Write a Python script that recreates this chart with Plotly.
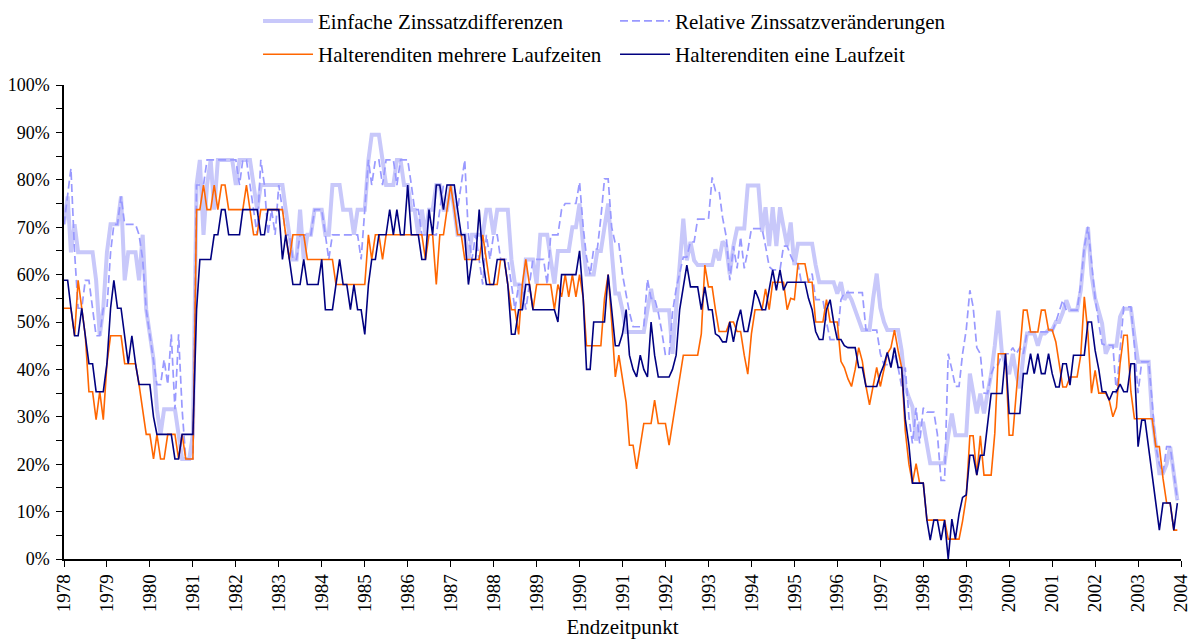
import pandas as pd
import plotly.graph_objects as go

years = list(range(1978, 2005))
year_labels = [str(y) for y in years]

# Monthly values (%) Jan 1978 - Dec 2003
einfache = [
    70.6, 76.5, 64.7, 70.6, 64.7, 64.7, 64.7, 64.7, 64.7, 58.8, 47.1, 52.9,
    64.7, 70.6, 70.6, 70.6, 76.5, 58.8, 64.7, 64.7, 64.7, 58.8, 68.4, 52.6,
    47.4, 42.1, 31.6, 26.3, 31.6, 31.6, 31.6, 31.6, 26.3, 21.1, 21.1, 21.1,
    26.3, 78.9, 84.2, 68.4, 78.9, 84.2, 73.7, 84.2, 84.2, 84.2, 84.2, 84.2,
    78.9, 84.2, 84.2, 84.2, 84.2, 78.9, 73.7, 78.9, 78.9, 78.9, 78.9, 78.9,
    78.9, 78.9, 73.7, 68.4, 63.2, 63.2, 73.7, 63.2, 68.4, 68.4, 73.7, 73.7,
    73.7, 68.4, 68.4, 78.9, 78.9, 78.9, 73.7, 73.7, 73.7, 68.4, 73.7, 73.7,
    73.7, 84.2, 89.5, 89.5, 89.5, 84.2, 78.9, 78.9, 78.9, 84.2, 84.2, 78.9,
    78.9, 73.7, 73.7, 68.4, 73.7, 68.4, 73.7, 73.7, 78.9, 78.9, 73.7, 73.7,
    78.9, 73.7, 68.4, 68.4, 68.4, 63.2, 68.4, 68.4, 68.4, 68.4, 73.7, 73.7,
    68.4, 73.7, 73.7, 73.7, 73.7, 63.2, 57.9, 57.9, 52.6, 63.2, 63.2, 63.2,
    58.1, 68.4, 68.4, 68.4, 63.2, 58.1, 65.0, 65.0, 65.0, 65.0, 70.0, 70.0,
    75.0, 65.8, 60.0, 60.0, 60.0, 65.0, 65.0, 70.0, 75.0, 65.0, 56.0, 56.0,
    52.5, 47.9, 47.9, 47.9, 47.9, 47.9, 47.9, 52.5, 57.0, 52.5, 52.5, 52.5,
    52.5, 52.5, 43.3, 52.0, 62.0, 71.8, 63.0, 66.9, 63.0, 62.0, 62.0, 62.0,
    62.0, 62.0, 65.3, 63.0, 67.0, 66.0, 60.0, 66.0, 69.7, 69.7, 69.7, 78.8,
    78.8, 78.8, 78.8, 69.0, 74.2, 66.0, 74.2, 66.0, 74.2, 70.0, 66.0, 71.0,
    62.0, 66.5, 66.5, 66.5, 66.5, 66.5, 62.0, 58.4, 58.4, 58.4, 58.4, 58.4,
    56.0, 58.4, 54.7, 56.0, 54.7, 52.4, 50.0, 48.3, 48.3, 48.3, 55.0, 60.2,
    53.0, 50.0, 48.3, 48.3, 48.3, 48.3, 44.0, 36.3, 34.0, 32.1, 25.0, 28.6,
    28.6, 24.0, 20.2, 20.2, 20.2, 20.2, 20.2, 26.0, 30.7, 26.1, 26.1, 26.1,
    26.1, 39.1, 34.9, 30.7, 34.9, 30.7, 34.9, 39.0, 45.0, 52.4, 43.3, 41.0,
    39.0, 43.3, 39.0, 36.0, 43.0, 47.6, 47.6, 47.6, 45.0, 47.6, 47.6, 48.3,
    48.3, 50.0, 50.0, 52.0, 54.6, 52.5, 52.5, 52.5, 56.7, 65.0, 70.0, 60.0,
    55.0, 52.0, 49.7, 43.3, 45.0, 45.0, 45.0, 51.1, 52.8, 52.8, 52.8, 47.0,
    41.6, 41.6, 41.6, 41.6, 30.0, 23.7, 18.1, 18.1, 20.0, 23.7, 18.1, 12.4,
]

relative = [
    70.6, 76.5, 82.4, 64.7, 52.9, 52.9, 58.8, 58.8, 52.9, 47.1, 47.1, 52.9,
    52.9, 64.7, 70.6, 70.6, 76.5, 70.6, 70.6, 70.6, 70.6, 68.4, 63.2, 52.6,
    47.4, 42.1, 36.8, 36.8, 42.1, 36.8, 47.4, 31.6, 47.4, 31.6, 21.1, 21.1,
    21.1, 78.9, 78.9, 78.9, 84.2, 84.2, 84.2, 84.2, 84.2, 84.2, 84.2, 84.2,
    84.2, 78.9, 84.2, 84.2, 78.9, 73.7, 68.4, 84.2, 78.9, 68.4, 73.7, 68.4,
    78.9, 73.7, 68.4, 68.4, 63.2, 63.2, 68.4, 68.4, 68.4, 68.4, 73.7, 73.7,
    73.7, 68.4, 63.2, 68.4, 68.4, 68.4, 68.4, 68.4, 68.4, 68.4, 68.4, 63.2,
    73.7, 84.2, 78.9, 84.2, 84.2, 78.9, 84.2, 84.2, 84.2, 78.9, 84.2, 84.2,
    84.2, 78.9, 73.7, 73.7, 68.4, 68.4, 68.4, 68.4, 68.4, 73.7, 78.9, 78.9,
    78.9, 78.9, 73.7, 78.9, 84.2, 68.4, 63.2, 68.4, 63.2, 57.9, 68.4, 63.2,
    68.4, 68.4, 63.2, 63.2, 63.2, 57.9, 52.6, 57.9, 57.9, 52.6, 57.9, 63.2,
    63.2, 63.2, 63.2, 57.9, 68.4, 68.4, 68.4, 73.7, 75.0, 75.0, 75.0, 75.0,
    79.5, 70.0, 63.7, 60.0, 65.4, 65.4, 72.0, 80.2, 80.2, 70.0, 66.5, 66.5,
    60.0, 55.3, 52.0, 49.0, 49.0, 49.0, 49.0, 59.0, 55.0, 55.0, 52.0, 48.0,
    43.0, 43.0, 52.0, 57.0, 60.0, 63.7, 63.7, 66.9, 66.9, 71.7, 71.7, 71.7,
    71.7, 80.5, 77.7, 77.7, 72.0, 68.0, 58.8, 66.0, 61.3, 68.0, 61.3, 65.0,
    69.7, 69.7, 69.7, 69.7, 66.0, 61.7, 61.0, 61.0, 61.0, 66.0, 66.0, 64.0,
    62.3, 62.3, 58.4, 58.4, 58.4, 60.2, 54.7, 54.7, 54.7, 50.0, 46.3, 46.3,
    46.3, 54.7, 56.2, 56.2, 56.2, 56.2, 56.2, 56.2, 48.3, 48.3, 48.3, 48.3,
    43.3, 41.0, 41.0, 41.0, 43.3, 40.4, 36.4, 40.4, 30.0, 24.4, 31.9, 24.4,
    31.9, 31.0, 31.0, 31.0, 26.3, 16.6, 16.6, 43.3, 40.0, 36.4, 36.4, 43.3,
    48.3, 56.7, 53.2, 44.6, 43.3, 35.0, 34.9, 39.0, 41.0, 41.0, 43.3, 43.3,
    43.3, 44.6, 43.3, 44.6, 43.3, 47.9, 47.9, 47.9, 47.9, 47.9, 47.9, 47.9,
    47.9, 50.0, 52.0, 54.6, 52.5, 52.5, 52.5, 52.5, 58.0, 65.8, 70.1, 62.3,
    55.0, 49.7, 45.4, 45.1, 45.1, 45.1, 34.9, 43.3, 53.2, 53.2, 53.2, 45.0,
    35.0, 41.6, 41.6, 41.6, 33.0, 23.7, 20.0, 18.1, 23.7, 23.7, 18.1, 12.4,
]

mehrere = [
    52.9, 52.9, 52.9, 47.1, 58.8, 52.9, 47.1, 35.3, 35.3, 29.4, 35.3, 29.4,
    41.2, 47.1, 47.1, 47.1, 47.1, 41.2, 41.2, 41.2, 41.2, 36.8, 31.6, 26.3,
    26.3, 21.1, 26.3, 21.1, 21.1, 26.3, 26.3, 26.3, 21.1, 26.3, 21.1, 21.1,
    21.1, 73.7, 73.7, 78.9, 73.7, 73.7, 78.9, 73.7, 78.9, 78.9, 73.7, 73.7,
    73.7, 73.7, 73.7, 78.9, 73.7, 68.4, 68.4, 73.7, 73.7, 73.7, 73.7, 73.7,
    73.7, 73.7, 68.4, 63.2, 68.4, 68.4, 68.4, 68.4, 63.2, 63.2, 63.2, 63.2,
    63.2, 63.2, 63.2, 63.2, 57.9, 57.9, 57.9, 57.9, 57.9, 57.9, 57.9, 57.9,
    57.9, 68.4, 63.2, 68.4, 68.4, 63.2, 68.4, 68.4, 68.4, 68.4, 68.4, 68.4,
    68.4, 68.4, 68.4, 68.4, 68.4, 63.2, 68.4, 68.4, 57.9, 68.4, 68.4, 73.7,
    78.9, 73.7, 68.4, 68.4, 63.2, 63.2, 63.2, 63.2, 63.2, 68.4, 63.2, 57.9,
    57.9, 57.9, 63.2, 63.2, 57.9, 52.6, 52.6, 47.4, 57.9, 63.2, 57.9, 52.6,
    57.9, 57.9, 57.9, 57.9, 57.9, 52.6, 57.9, 55.3, 60.0, 55.3, 60.0, 55.3,
    60.0, 55.0, 45.0, 45.0, 45.0, 45.0, 45.0, 55.0, 60.0, 50.0, 38.4, 43.0,
    38.4, 33.0, 24.0, 24.0, 19.0, 24.0, 28.6, 28.6, 28.6, 33.5, 28.6, 28.6,
    28.6, 24.0, 28.6, 33.0, 38.4, 43.0, 43.0, 43.0, 43.0, 43.0, 47.5, 62.0,
    57.4, 57.4, 52.6, 48.0, 48.0, 48.0, 50.0, 50.0, 48.0, 48.0, 43.0, 39.0,
    47.5, 52.6, 52.6, 52.6, 57.0, 52.6, 58.4, 58.4, 58.4, 58.4, 52.6, 55.0,
    54.7, 62.3, 62.3, 62.3, 58.4, 58.4, 50.0, 50.0, 50.0, 54.7, 50.0, 50.0,
    50.0, 41.7, 40.4, 38.0, 36.4, 40.0, 44.6, 41.7, 36.4, 32.5, 36.4, 40.4,
    36.4, 40.0, 43.3, 44.6, 48.3, 44.0, 40.4, 27.0, 20.0, 16.0, 20.1, 16.0,
    16.0, 8.2, 8.2, 8.2, 8.2, 8.2, 8.2, 4.2, 4.2, 4.2, 4.2, 8.0,
    13.0, 26.0, 26.0, 17.7, 26.0, 17.7, 17.7, 17.7, 26.5, 43.3, 43.3, 43.3,
    26.1, 26.1, 34.9, 43.0, 52.5, 52.5, 47.9, 47.9, 47.9, 52.5, 52.5, 48.3,
    48.3, 45.8, 41.2, 36.3, 36.3, 38.4, 38.4, 38.4, 43.0, 55.3, 47.6, 35.0,
    39.8, 35.0, 35.0, 35.0, 33.5, 30.0, 32.0, 41.2, 47.2, 47.2, 35.3, 29.6,
    29.6, 29.6, 29.6, 29.6, 29.6, 23.7, 23.7, 17.0, 11.8, 11.8, 6.1, 6.1,
]

eine = [
    58.8, 58.8, 52.9, 47.1, 47.1, 52.9, 47.1, 41.2, 41.2, 35.3, 35.3, 35.3,
    41.2, 52.9, 58.8, 52.9, 52.9, 47.1, 41.2, 47.1, 41.2, 36.8, 36.8, 36.8,
    36.8, 30.0, 26.3, 26.3, 26.3, 26.3, 26.3, 21.1, 21.1, 26.3, 26.3, 26.3,
    26.3, 52.6, 63.2, 63.2, 63.2, 63.2, 68.4, 68.4, 73.7, 73.7, 68.4, 68.4,
    68.4, 68.4, 73.7, 73.7, 73.7, 73.7, 73.7, 68.4, 68.4, 73.7, 73.7, 73.7,
    73.7, 63.2, 68.4, 63.2, 57.9, 57.9, 57.9, 63.2, 57.9, 57.9, 57.9, 57.9,
    63.2, 52.6, 52.6, 52.6, 57.9, 63.2, 57.9, 57.9, 52.6, 57.9, 52.6, 52.6,
    47.4, 57.9, 63.2, 63.2, 68.4, 68.4, 68.4, 73.7, 68.4, 73.7, 68.4, 68.4,
    78.9, 68.4, 68.4, 68.4, 63.2, 63.2, 73.7, 68.4, 78.9, 78.9, 73.7, 78.9,
    78.9, 78.9, 73.7, 68.4, 68.4, 57.9, 63.2, 63.2, 73.7, 63.2, 57.9, 57.9,
    57.9, 63.2, 63.2, 63.2, 57.9, 47.4, 47.4, 52.6, 52.6, 57.9, 57.9, 52.6,
    52.6, 52.6, 52.6, 52.6, 52.6, 52.6, 50.0, 60.0, 60.0, 60.0, 60.0, 60.0,
    65.0, 55.0, 40.0, 40.0, 50.0, 50.0, 50.0, 50.0, 60.0, 52.6, 45.0, 45.0,
    47.5, 52.6, 43.0, 40.0, 38.4, 43.0, 40.0, 38.4, 50.0, 43.0, 38.4, 38.4,
    38.4, 38.4, 40.0, 43.0, 52.6, 57.0, 62.0, 57.4, 57.4, 57.4, 52.6, 57.4,
    52.6, 52.6, 47.5, 47.0, 45.8, 45.8, 50.0, 45.8, 50.0, 52.6, 48.0, 48.0,
    52.0, 56.7, 55.0, 52.6, 52.6, 57.0, 61.0, 56.7, 61.0, 56.7, 58.4, 58.4,
    58.4, 58.4, 58.4, 58.4, 55.0, 52.6, 48.0, 46.3, 46.3, 52.6, 54.7, 50.0,
    46.3, 46.3, 45.0, 44.6, 44.6, 44.6, 40.4, 40.4, 36.4, 36.4, 36.4, 36.4,
    39.1, 41.0, 43.6, 40.4, 44.6, 40.4, 40.4, 29.5, 24.0, 16.0, 16.0, 16.0,
    16.0, 8.2, 4.0, 8.2, 8.2, 4.0, 8.2, 0.0, 8.4, 4.2, 9.5, 13.0,
    13.5, 21.9, 21.9, 17.7, 21.9, 21.9, 29.0, 34.9, 34.9, 34.9, 34.9, 43.3,
    30.7, 30.7, 30.7, 30.7, 39.1, 39.1, 43.3, 39.1, 43.3, 39.1, 39.1, 43.3,
    39.1, 36.3, 36.3, 41.2, 41.2, 36.7, 43.0, 43.0, 43.0, 43.0, 50.0, 50.0,
    44.0, 40.0, 35.3, 35.3, 33.5, 35.3, 35.3, 36.9, 35.3, 35.3, 41.2, 41.2,
    23.7, 29.3, 29.3, 23.7, 18.0, 11.8, 6.1, 11.8, 11.8, 11.8, 6.1, 11.8,
]

dates = pd.date_range("1978-01-01", periods=len(eine), freq="MS")
year_ticks = [pd.Timestamp(year=y, month=1, day=1) for y in years]
y_ticks = list(range(0, 101, 10))
y_labels = [f"{v}%" for v in y_ticks]

FONT = "Liberation Serif"

fig = go.Figure()
fig.add_trace(go.Scatter(x=dates, y=einfache, mode="lines",
                         name="Einfache Zinssatzdifferenzen",
                         line=dict(color="#c8c8fa", width=4),
                         legend="legend", legendgroup="a"))
fig.add_trace(go.Scatter(x=dates, y=relative, mode="lines",
                         name="Relative Zinssatzveränderungen",
                         line=dict(color="#9999ff", width=1.7, dash="8px,4px"),
                         legend="legend2", legendgroup="b"))
fig.add_trace(go.Scatter(x=dates, y=mehrere, mode="lines",
                         name="Halterenditen mehrere Laufzeiten",
                         line=dict(color="#ff6600", width=1.6),
                         legend="legend", legendgroup="c"))
fig.add_trace(go.Scatter(x=dates, y=eine, mode="lines",
                         name="Halterenditen eine Laufzeit",
                         line=dict(color="#000080", width=1.6),
                         legend="legend2", legendgroup="d"))

xr = ["1978-01-01", "2004-01-01"]
legend_common = dict(orientation="v", xanchor="left", yanchor="top",
                     xref="paper", yref="paper", y=1.1776,
                     bgcolor="rgba(0,0,0,0)", borderwidth=0,
                     font=dict(family=FONT, size=21, color="black"),
                     itemwidth=50, tracegroupgap=3)

# the page body adds an 8px offset, so the figure is 8px smaller on each axis
fig.update_layout(
    width=1188, height=633,
    margin=dict(l=56, r=15, t=76.5, b=82, autoexpand=False),
    paper_bgcolor="white", plot_bgcolor="white",
    font=dict(family=FONT, size=18, color="black"),
    legend=dict(x=0.1737, **legend_common),
    legend2=dict(x=0.4933, **legend_common),
    xaxis=dict(type="date", range=xr, tickmode="array", tickvals=year_ticks,
               ticktext=year_labels, tickangle=-90, ticks="outside", ticklen=6,
               tickwidth=1.3, tickcolor="black", showline=True, linecolor="black",
               linewidth=1.5, showgrid=False, zeroline=False, automargin=False,
               tickfont=dict(family=FONT, size=19, color="black"),
               title=dict(text="Endzeitpunkt", standoff=8,
                          font=dict(family=FONT, size=21, color="black"))),
    xaxis2=dict(type="date", range=xr, overlaying="x", anchor="y", side="bottom",
                tickmode="array", tickvals=year_ticks, ticks="inside", ticklen=6,
                tickwidth=1.3, tickcolor="black", showticklabels=False,
                showline=False, showgrid=False, zeroline=False, automargin=False),
    yaxis=dict(range=[0, 100], tickmode="array", tickvals=y_ticks, ticktext=y_labels,
               ticks="outside", ticklen=6, tickwidth=1.3, tickcolor="black",
               ticklabelstandoff=3,
               minor=dict(dtick=5, tick0=0, ticks="outside", ticklen=6,
                          tickwidth=1.3, tickcolor="black", showgrid=False),
               showline=True, linecolor="black", linewidth=1.5, showgrid=False,
               zeroline=False, automargin=False,
               tickfont=dict(family=FONT, size=18, color="black")),
    yaxis2=dict(range=[0, 100], overlaying="y", anchor="x", side="left",
                tickmode="linear", tick0=0, dtick=5, ticks="inside", ticklen=6,
                tickwidth=1.3, tickcolor="black", showticklabels=False,
                showline=False, showgrid=False, zeroline=False, automargin=False),
)

fig.write_html("out.html")
